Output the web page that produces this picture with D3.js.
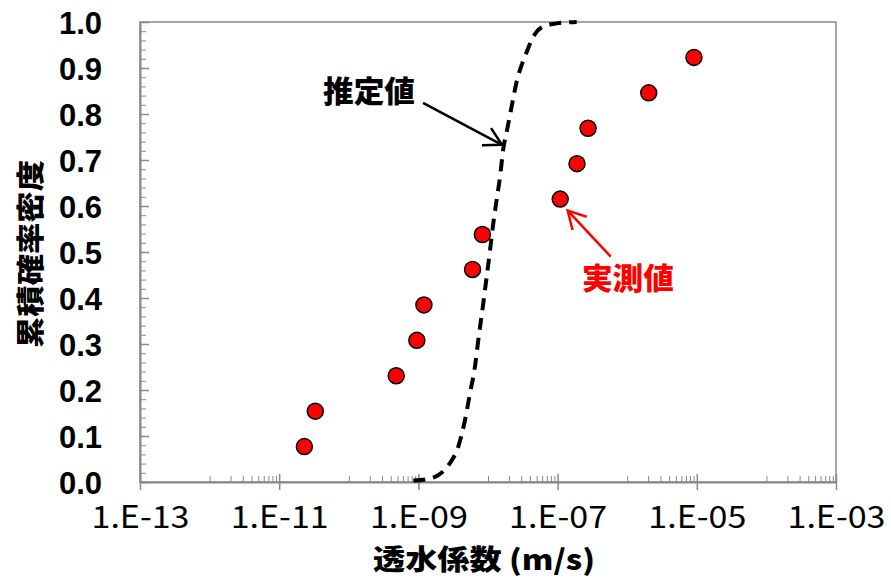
<!DOCTYPE html>
<html>
<head>
<meta charset="utf-8">
<script src="https://cdn.jsdelivr.net/npm/d3@7"></script>
<style>
  body { margin: 0; background: #fff; }
  svg { display: block; }
</style>
</head>
<body>
<div id="chart"></div>
<script>
/* DATA */
// measured permeability (m/s) and cumulative probability
const measuredK = [2.3e-11, 3.3e-11, 4.8e-10, 9.5e-10, 1.2e-9, 6.0e-9, 8.3e-9, 1.09e-7, 1.9e-7, 2.74e-7, 2.04e-6, 9.1e-6];
const measuredP = [0.077, 0.154, 0.231, 0.308, 0.385, 0.462, 0.538, 0.615, 0.692, 0.769, 0.846, 0.923];

// estimated curve
const estK = [8.45e-10, 1.32e-9, 1.93e-9, 2.84e-9, 3.74e-9, 4.68e-9, 5.51e-9, 6.50e-9, 7.26e-9, 8.55e-9, 9.57e-9, 1.07e-8,
  1.19e-8, 1.33e-8, 1.49e-8, 1.66e-8, 1.86e-8, 2.07e-8, 2.31e-8, 2.58e-8, 3.05e-8, 3.60e-8, 4.25e-8, 5.01e-8, 6.59e-8, 9.70e-8, 1.88e-7];
const estP = [0.003, 0.006, 0.015, 0.041, 0.077, 0.135, 0.193, 0.251, 0.309, 0.388, 0.446, 0.504,
  0.562, 0.613, 0.664, 0.725, 0.762, 0.798, 0.835, 0.870, 0.907, 0.935, 0.961, 0.979, 0.992, 0.997, 1.0];

const xTicks = [1e-13, 1e-11, 1e-9, 1e-7, 1e-5, 1e-3];
const xTickLabels = ["1.E-13", "1.E-11", "1.E-09", "1.E-07", "1.E-05", "1.E-03"];
const yTicks = [0, 0.1, 0.2, 0.3, 0.4, 0.5, 0.6, 0.7, 0.8, 0.9, 1.0];

const xTitle = "透水係数 (m/s)";
const yTitle = "累積確率密度";
const estLabel = "推定値";
const measLabel = "実測値";

/* CONSTANTS */
const width = 891,
  height = 578,
  margin = { top: 22, right: 55, bottom: 96, left: 140 },
  radius = 8,
  axisColor = "#898989",
  jpFont = "'Noto Sans CJK JP', 'Noto Sans', sans-serif";

const svg = d3.select("#chart")
  .append("svg")
  .attr("width", width)
  .attr("height", height);

const xScale = d3.scaleLog()
  .domain([1e-13, 1e-3])
  .range([margin.left, width - margin.right]);

const yScale = d3.scaleLinear()
  .domain([0, 1])
  .range([height - margin.bottom, margin.top]);

// minor ticks: excel style, 1..9 x 10^(major+1) in every major step of 100
const xMinor = [];
xTicks.slice(0, -1).forEach(t => {
  for (let k = 1; k <= 9; k++) xMinor.push(k * t * 10);
});
const yMinor = d3.range(0, 50).map(i => i * 0.02).filter(v => Math.abs(v * 10 - Math.round(v * 10)) > 1e-6);

/* PLOT BORDER */
svg.append("rect")
  .attr("x", margin.left)
  .attr("y", margin.top)
  .attr("width", width - margin.right - margin.left)
  .attr("height", height - margin.bottom - margin.top)
  .attr("fill", "none")
  .attr("stroke", axisColor)
  .attr("stroke-width", 1.5);

/* AXES */
const xMinorAxis = svg.append("g")
  .attr("transform", `translate(0,${height - margin.bottom})`)
  .call(d3.axisBottom(xScale).tickValues(xMinor).tickSize(-6).tickFormat(""));
xMinorAxis.select(".domain").remove();
xMinorAxis.selectAll("line").attr("stroke", axisColor).attr("stroke-width", 1);

const yMinorAxis = svg.append("g")
  .attr("transform", `translate(${margin.left},0)`)
  .call(d3.axisLeft(yScale).tickValues(yMinor).tickSize(-6).tickFormat(""));
yMinorAxis.select(".domain").remove();
yMinorAxis.selectAll("line").attr("stroke", axisColor).attr("stroke-width", 1);

const xAxis = svg.append("g")
  .attr("class", "axis x-axis")
  .attr("transform", `translate(0,${height - margin.bottom})`)
  .call(d3.axisBottom(xScale).tickValues(xTicks).tickSize(8).tickSizeOuter(0).tickFormat((d, i) => xTickLabels[i]));
xAxis.select(".domain").attr("stroke", axisColor).attr("stroke-width", 2);
xAxis.selectAll(".tick line").attr("y1", -8).attr("stroke", axisColor).attr("stroke-width", 1.5);
xAxis.selectAll(".tick text")
  .attr("y", 46)
  .attr("dy", 0)
  .attr("fill", "#000")
  .attr("font-family", jpFont)
  .attr("font-size", 31)
  .attr("textLength", 98)
  .attr("lengthAdjust", "spacingAndGlyphs");

const yAxis = svg.append("g")
  .attr("class", "axis y-axis")
  .attr("transform", `translate(${margin.left},0)`)
  .call(d3.axisLeft(yScale).tickValues(yTicks).tickSize(9).tickSizeOuter(0).tickPadding(29).tickFormat(d3.format(".1f")));
yAxis.select(".domain").attr("stroke", axisColor).attr("stroke-width", 2);
yAxis.selectAll(".tick line").attr("x2", 9).attr("stroke", axisColor).attr("stroke-width", 1.5);
yAxis.selectAll(".tick text")
  .attr("dy", "0.36em")
  .attr("fill", "#000")
  .attr("font-family", "'Liberation Sans', Arial, sans-serif")
  .attr("font-weight", "bold")
  .attr("font-size", 31);

// axis titles
svg.append("text")
  .attr("x", (margin.left + width - margin.right) / 2 - 4)
  .attr("y", 570)
  .attr("text-anchor", "middle")
  .attr("font-family", jpFont)
  .attr("font-weight", 900)
  .attr("font-size", 28)
  .attr("textLength", 222)
  .attr("lengthAdjust", "spacingAndGlyphs")
  .text(xTitle);

svg.append("text")
  .attr("transform", `translate(41,${(margin.top + height - margin.bottom) / 2 + 2}) rotate(-90)`)
  .attr("text-anchor", "middle")
  .attr("font-family", jpFont)
  .attr("font-weight", 900)
  .attr("font-size", 28)
  .attr("textLength", 188)
  .attr("lengthAdjust", "spacingAndGlyphs")
  .text(yTitle);

/* ESTIMATED CURVE */
const estData = estK.map((k, i) => ({ k: k, p: estP[i] }));
const line = d3.line()
  .x(d => xScale(d.k))
  .y(d => yScale(d.p))
  .curve(d3.curveMonotoneX);

svg.append("path")
  .datum(estData)
  .attr("d", line)
  .attr("fill", "none")
  .attr("stroke", "#000")
  .attr("stroke-width", 4)
  .attr("stroke-dasharray", "12,8");

/* MEASURED POINTS */
const measData = measuredK.map((k, i) => ({ k: k, p: measuredP[i] }));
svg.selectAll("circle.dot")
  .data(measData)
  .join("circle")
  .attr("class", "dot")
  .attr("cx", d => xScale(d.k))
  .attr("cy", d => yScale(d.p))
  .attr("r", radius)
  .attr("fill", "#ff0000")
  .attr("stroke", "#000")
  .attr("stroke-width", 1.5);

/* ANNOTATIONS */
function arrow(from, to, color) {
  const x1 = xScale(from[0]), y1 = yScale(from[1]);
  const x2 = xScale(to[0]), y2 = yScale(to[1]);
  const ang = Math.atan2(y1 - y2, x1 - x2);
  const len = 20, spread = 29 * Math.PI / 180;
  const g = svg.append("g")
    .attr("stroke", color)
    .attr("stroke-width", 2.5)
    .attr("fill", "none");
  g.append("line").attr("x1", x1).attr("y1", y1).attr("x2", x2).attr("y2", y2);
  g.append("polyline")
    .attr("points", [
      [x2 + len * Math.cos(ang - spread), y2 + len * Math.sin(ang - spread)],
      [x2, y2],
      [x2 + len * Math.cos(ang + spread), y2 + len * Math.sin(ang + spread)]
    ].map(p => p.join(",")).join(" "));
}

arrow([Math.pow(10, -8.934), 0.824], [Math.pow(10, -7.799), 0.733], "#000");
arrow([Math.pow(10, -6.237), 0.490], [Math.pow(10, -6.855), 0.590], "#ff0000");

svg.append("text")
  .attr("x", xScale(Math.pow(10, -9.71)))
  .attr("y", yScale(0.826))
  .attr("text-anchor", "middle")
  .attr("font-family", jpFont)
  .attr("font-weight", 900)
  .attr("font-size", 30)
  .attr("textLength", 92)
  .attr("lengthAdjust", "spacingAndGlyphs")
  .attr("fill", "#000")
  .text(estLabel);

svg.append("text")
  .attr("x", xScale(Math.pow(10, -5.989)))
  .attr("y", yScale(0.4196))
  .attr("text-anchor", "middle")
  .attr("font-family", jpFont)
  .attr("font-weight", 900)
  .attr("font-size", 30)
  .attr("textLength", 92)
  .attr("lengthAdjust", "spacingAndGlyphs")
  .attr("fill", "#ff0000")
  .text(measLabel);
</script>
</body>
</html>
